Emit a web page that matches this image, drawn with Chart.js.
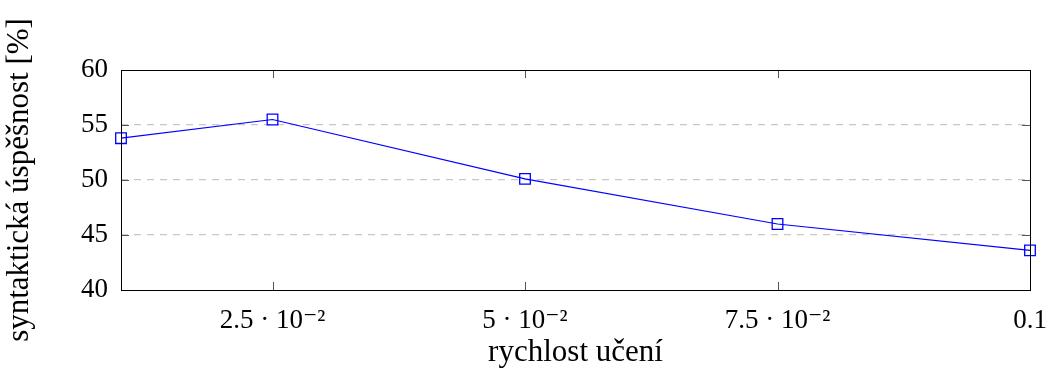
<!DOCTYPE html>
<html>
<head>
<meta charset="utf-8">
<script src="https://cdn.jsdelivr.net/npm/chart.js@4/dist/chart.umd.min.js"></script>
<style>
  html, body { margin: 0; padding: 0; background: #fff; }
  #wrap { width: 1053px; height: 371px; }
</style>
</head>
<body>
<div id="wrap"><canvas id="chart"></canvas></div>
<script>
const rates = [0.01, 0.025, 0.05, 0.075, 0.1];
const success = [53.8, 55.5, 50.1, 46.0, 43.6];
const xTickValues = [0.025, 0.05, 0.075, 0.1];
const xTickLabels = ['2.5 · 10⁻²', '5 · 10⁻²', '7.5 · 10⁻²', '0.1'];
const yTickValues = [40, 45, 50, 55, 60];

const serif = '"Liberation Serif", "DejaVu Serif", serif';

// pgfplots-style inward tick marks on all four sides
const inwardTicks = {
    id: 'inwardTicks',
    afterDatasetsDraw(chart) {
        const { ctx, chartArea: a, scales } = chart;
        const len = 8;
        ctx.save();
        ctx.strokeStyle = '#555';
        ctx.lineWidth = 1;
        ctx.beginPath();
        xTickValues.forEach(v => {
            const x = Math.round(scales.x.getPixelForValue(v)) + 0.5;
            ctx.moveTo(x, a.bottom); ctx.lineTo(x, a.bottom - len);
            ctx.moveTo(x, a.top); ctx.lineTo(x, a.top + len);
        });
        yTickValues.forEach(v => {
            const y = Math.round(scales.y.getPixelForValue(v)) + 0.5;
            ctx.moveTo(a.left, y); ctx.lineTo(a.left + len, y);
            ctx.moveTo(a.right, y); ctx.lineTo(a.right - len, y);
        });
        ctx.stroke();
        ctx.strokeStyle = '#000';
        ctx.strokeRect(Math.round(a.left) + 0.5, Math.round(a.top) + 0.5,
            Math.round(a.right - a.left), Math.round(a.bottom - a.top));
        ctx.restore();
    }
};

new Chart(document.getElementById('chart'), {
    type: 'line',
    data: {
        datasets: [{
            data: rates.map((r, i) => ({ x: r, y: success[i] })),
            borderColor: '#0000ff',
            borderWidth: 1.2,
            pointStyle: 'rect',
            pointRadius: 7.5,
            pointBorderWidth: 1.3,
            pointBorderColor: '#0000ff',
            pointBackgroundColor: 'rgba(0,0,0,0)',
            tension: 0,
            clip: false
        }]
    },
    options: {
        responsive: true,
        maintainAspectRatio: false,
        animation: false,
        devicePixelRatio: 1,
        layout: { padding: { left: 0, top: 70, right: 23, bottom: 0 } },
        plugins: { legend: { display: false }, tooltip: { enabled: false } },
        scales: {
            x: {
                type: 'linear',
                min: 0.01,
                max: 0.1,
                afterBuildTicks: s => { s.ticks = xTickValues.map(v => ({ value: v })); },
                afterFit: s => { s.height = 81; s.paddingLeft = 0; s.paddingRight = 0; },
                border: { display: false },
                grid: { display: false, drawTicks: false },
                ticks: {
                    padding: 15,
                    color: '#000',
                    font: { family: serif, size: 27 },
                    maxRotation: 0,
                    autoSkip: false,
                    callback: v => xTickLabels[xTickValues.indexOf(v)]
                },
                title: {
                    display: true,
                    text: 'rychlost učení',
                    color: '#000',
                    font: { family: serif, size: 31 },
                    padding: { top: 0, bottom: 0 }
                }
            },
            y: {
                min: 40,
                max: 60,
                afterBuildTicks: s => { s.ticks = yTickValues.map(v => ({ value: v })); },
                afterFit: s => { s.width = 121; s.paddingTop = 0; s.paddingBottom = 0; },
                grid: {
                    drawTicks: false,
                    color: ctx => (ctx.tick.value === 40 || ctx.tick.value === 60) ? 'rgba(0,0,0,0)' : '#c8c8c8',
                    lineWidth: 1.2
                },
                border: { display: false, dash: [7, 6] },
                ticks: {
                    padding: 13,
                    color: '#000',
                    font: { family: serif, size: 27 }
                },
                title: {
                    display: true,
                    text: 'syntaktická úspěšnost [%]',
                    color: '#000',
                    font: { family: serif, size: 31 },
                    padding: { top: 1, bottom: 0 }
                }
            }
        }
    },
    plugins: [inwardTicks]
});
</script>
</body>
</html>
